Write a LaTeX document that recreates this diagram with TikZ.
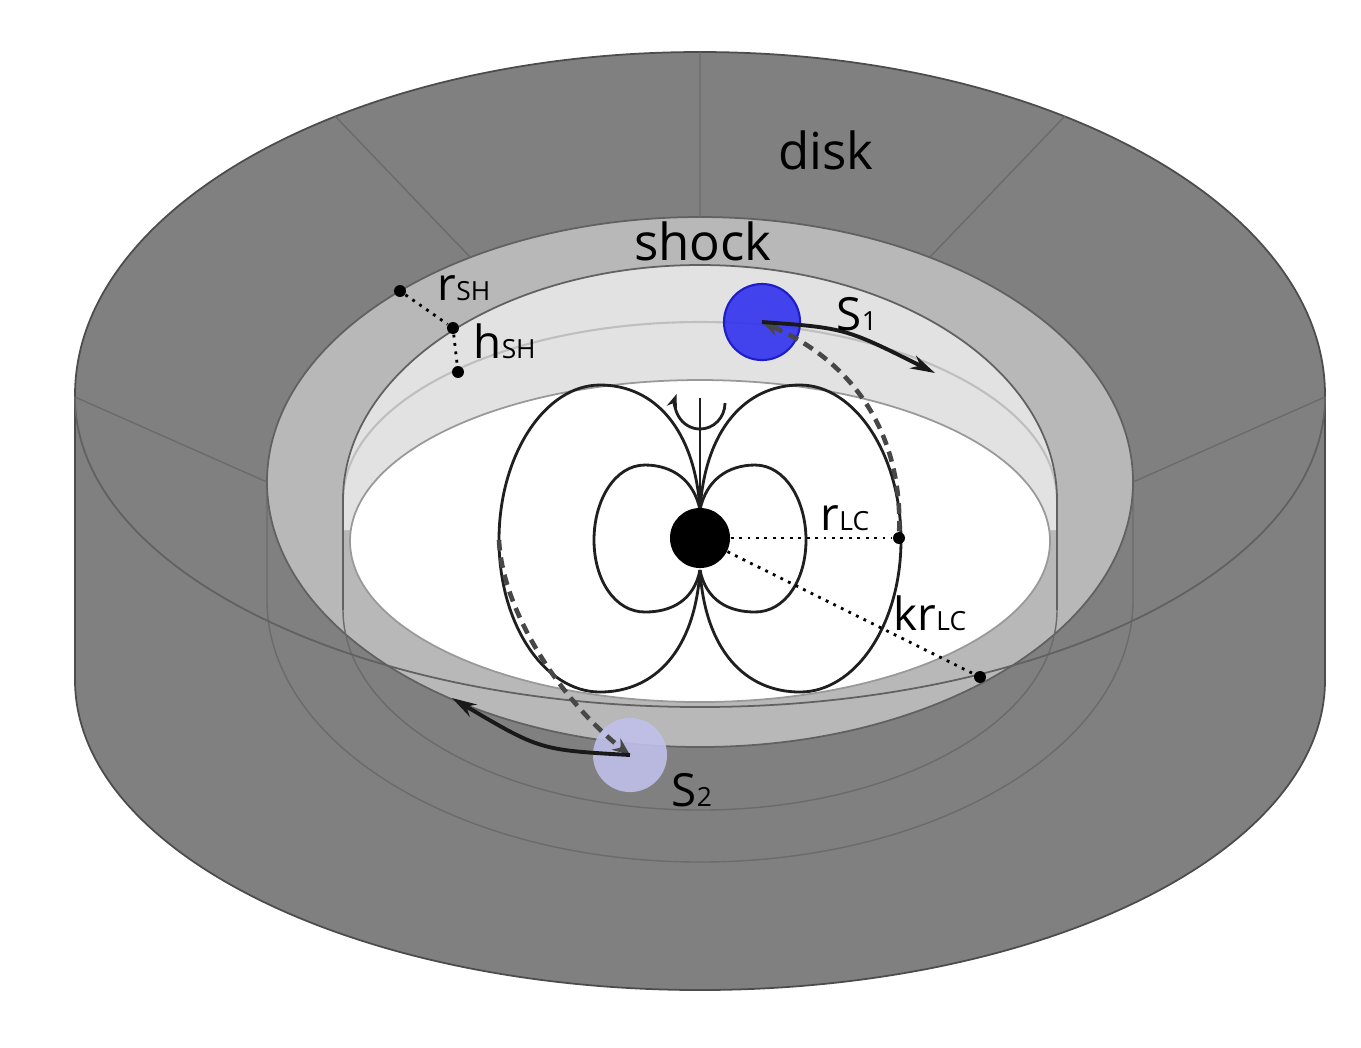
\documentclass[tikz,border=0pt]{standalone}
\usepackage{fontspec}
\setmainfont{Open Sans}
\usepackage{tikz}
\usetikzlibrary{arrows.meta}
\definecolor{diskgray}{gray}{0.5}
\definecolor{shockgray}{gray}{0.72}
\definecolor{wallgray}{gray}{0.885}
\definecolor{sonefill}{RGB}{45,45,240}
\definecolor{soneedge}{RGB}{30,30,200}
\definecolor{stwofill}{RGB}{192,192,234}
\tikzstyle{endpt} = [circle, fill=black, inner sep=0pt, minimum size=3.4pt]
\tikzstyle{rim} = [black!62, line width=0.5pt]
\tikzstyle{backline} = [black!58, line width=0.4pt]
\tikzstyle{field} = [black!88, line width=0.8pt]
\tikzstyle{ruler} = [line width=0.8pt, dash pattern=on 0.8pt off 1.6pt]
\tikzstyle{wind} = [black!72, line width=1.3pt, dash pattern=on 3pt off 2pt]
\tikzstyle{orbit} = [black!90, line width=1.1pt]
\tikzstyle{lbl} = [inner sep=0pt, anchor=base west]
\newcommand{\withsub}[2]{{\fontsize{13}{13}\selectfont #1}{\fontsize{7.5}{7.5}\selectfont #2}}

\begin{document}
\begin{tikzpicture}[>={Stealth[length=7pt,width=4pt]}, x=0.01cm, y=-0.01cm]
  \useasboundingbox[fill=white] (0,0) rectangle (1361,1047);
  % disk body
  \filldraw[fill=diskgray, draw=black!70, line width=0.5pt]
    (75,395) -- (75,680) arc[start angle=180, end angle=0, x radius=625, y radius=310]
    -- (1325,395) arc[start angle=0, end angle=-180, x radius=625, y radius=343] -- cycle;
  \draw[backline] (267,482) -- (267,600) arc[start angle=180, end angle=0, x radius=433, y radius=262] -- (1133,482);
  % shock ring and inner wall
  \filldraw[fill=shockgray, draw=black!62, line width=0.5pt] (700,482) ellipse[x radius=433, y radius=265];
  \fill[wallgray] (343,530) -- (343,500) arc[start angle=180, end angle=360, x radius=357, y radius=235] -- (1057,530) -- cycle;
  \filldraw[fill=white, draw=black!40, line width=0.5pt] (700,541) ellipse[x radius=350, y radius=161];
  \draw[black!25, line width=0.6pt] (343,500) arc[start angle=180, end angle=360, x radius=357, y radius=178];
  \draw[rim] (343,610) -- (343,500) arc[start angle=180, end angle=360, x radius=357, y radius=235] -- (1057,610);
  \draw[backline] (343,610) arc[start angle=180, end angle=0, x radius=357, y radius=200];
  % front edge and sectors of the disk top
  \draw[rim] (75,397) arc[start angle=180, end angle=0, x radius=625, y radius=310];
  \draw[backline] (700,52) -- (700,217) (335,116) -- (470,257) (1065,116) -- (930,257)
    (75,397) -- (267,482) (1325,397) -- (1133,482);

  % magnetosphere
  \foreach \s in {1,-1}{
    \begin{scope}[shift={(700,0)}, xscale=\s]
      \draw[field] (0,510) .. controls (-5,430) and (-45,385) .. (-100,385)
        .. controls (-155,385) and (-201,455) .. (-201,540)
        .. controls (-201,625) and (-155,692) .. (-100,692)
        .. controls (-45,692) and (-5,650) .. (0,570);
      \draw[field] (0,510) .. controls (-6,480) and (-28,465) .. (-55,465)
        .. controls (-85,465) and (-106,500) .. (-106,540)
        .. controls (-106,580) and (-85,612) .. (-55,612)
        .. controls (-28,612) and (-6,600) .. (0,570);
    \end{scope}
  }
  \draw[field] (700,398) -- (700,510);
  \draw[field, -{Stealth[length=4pt,width=3pt]}] (725,403) arc[start angle=0, end angle=200, x radius=25, y radius=26];
  \node[circle, fill=black, inner sep=0pt, minimum size=0.6cm] (star) at (700,538) {};

  % distances
  \node[endpt] (lc) at (899,538) {};
  \node[endpt] (klc) at (980,677) {};
  \node[endpt] (shout) at (400,291) {};
  \node[endpt] (shin) at (453,328) {};
  \node[endpt] (shbot) at (458,372) {};
  \draw[ruler] (star) -- (lc);
  \draw[ruler] (star) -- (klc);
  \draw[ruler] (shout) -- (shin);
  \draw[ruler] (shin) -- (shbot);

  % sources
  \node[circle, fill=sonefill, draw=soneedge, line width=0.6pt, fill opacity=0.88, inner sep=0pt, minimum size=0.76cm] (sone) at (762,322) {};
  \node[circle, fill=stwofill, fill opacity=0.9, inner sep=0pt, minimum size=0.74cm] (stwo) at (630,755) {};
  \coordinate (lw) at (499,540);
  \coordinate (sonetip) at (935,373);
  \coordinate (stwotip) at (452,698);
  \draw[wind, -{Stealth[length=5pt,width=4pt]}] (lc) .. controls (902,440) and (860,365) .. (sone.center);
  \draw[wind, -{Stealth[length=5pt,width=4pt]}] (lw) .. controls (502,610) and (560,700) .. (stwo.center);
  \draw[orbit, ->] (sone.center) .. controls (845,328) .. (sonetip);
  \draw[orbit, ->] (stwo.center) .. controls (540,750) .. (stwotip);

  % labels
  \node[font=\fontsize{14.5}{15}\selectfont] (disklabel) at (826,150) {disk};
  \node[font=\fontsize{14.5}{15}\selectfont] (shocklabel) at (703,241) {shock};
  \node[lbl] (rshlabel) at (437,300) {\withsub{r}{SH}};
  \node[lbl] (hshlabel) at (473,358) {\withsub{h}{SH}};
  \node[lbl] (sonelabel) at (836,330) {\withsub{S}{1}};
  \node[lbl] (stwolabel) at (671,806) {\withsub{S}{2}};
  \node[lbl] (rlclabel) at (820,530) {\withsub{r}{LC}};
  \node[lbl] (krlclabel) at (893,630) {\withsub{kr}{LC}};
\end{tikzpicture}
\end{document}
